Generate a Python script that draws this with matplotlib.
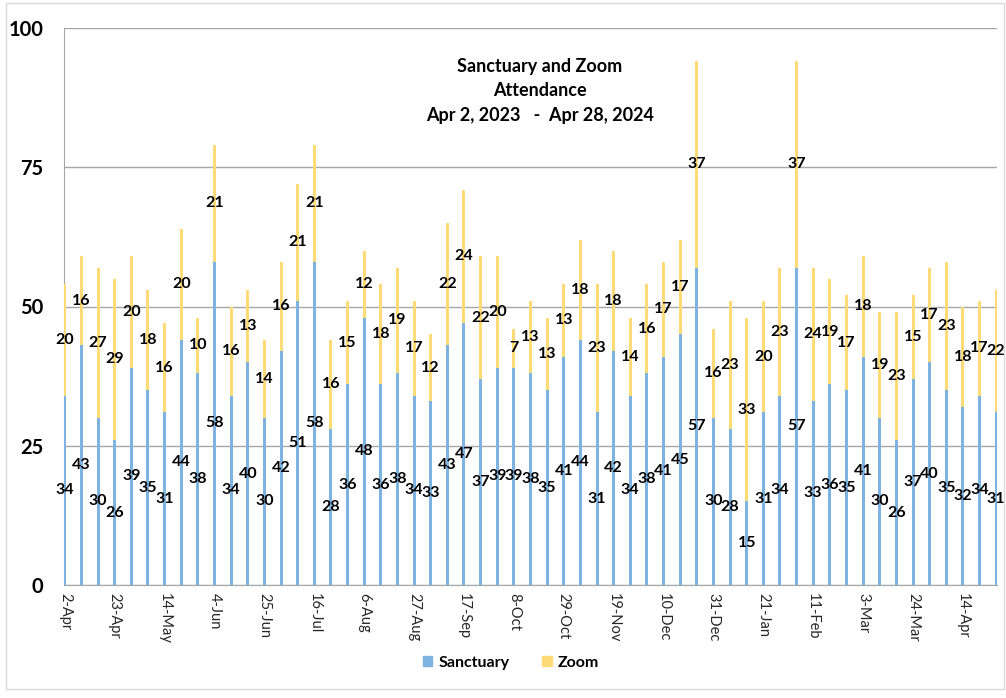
import matplotlib
matplotlib.use("Agg")
import matplotlib.pyplot as plt
from matplotlib.patches import Rectangle, Patch
import numpy as np

sanctuary = [34, 43, 30, 26, 39, 35, 31, 44, 38, 58, 34, 40, 30, 42, 51, 58, 28, 36, 48, 36,
             38, 34, 33, 43, 47, 37, 39, 39, 38, 35, 41, 44, 31, 42, 34, 38, 41, 45, 57, 30,
             28, 15, 31, 34, 57, 33, 36, 35, 41, 30, 26, 37, 40, 35, 32, 34, 31]
zoom = [20, 16, 27, 29, 20, 18, 16, 20, 10, 21, 16, 13, 14, 16, 21, 21, 16, 15, 12, 18,
        19, 17, 12, 22, 24, 22, 20, 7, 13, 13, 13, 18, 23, 18, 14, 16, 17, 17, 37, 16,
        23, 33, 20, 23, 37, 24, 19, 17, 18, 19, 23, 15, 17, 23, 18, 17, 22]
tick_labels = ["2-Apr", "23-Apr", "14-May", "4-Jun", "25-Jun", "16-Jul", "6-Aug", "27-Aug",
               "17-Sep", "8-Oct", "29-Oct", "19-Nov", "10-Dec", "31-Dec", "21-Jan", "11-Feb",
               "3-Mar", "24-Mar", "14-Apr"]
title = "Sanctuary and Zoom\nAttendance\nApr 2, 2023   -  Apr 28, 2024"

BLUE = "#7DB3E0"
YELLOW = "#FFDB78"
GRID = "#A6A6A6"
FONT = "Lato"

fig = plt.figure(figsize=(10.06, 6.98), dpi=100)
ax = fig.add_axes([64/1006, 1-585/698, (997-64)/1006, (585-28)/698])

x = np.arange(len(sanctuary))
s = np.array(sanctuary)
z = np.array(zoom)
w = 0.18
ax.bar(x, s, width=w, color=BLUE, zorder=3)
ax.bar(x, z, width=w, bottom=s, color=YELLOW, zorder=3)

for xi, si, zi in zip(x, s, z):
    ax.text(xi, si/2, str(si), ha="center", va="center", fontsize=11.5,
            fontweight="bold", family=FONT, zorder=5)
    ax.text(xi, si + zi/2, str(zi), ha="center", va="center", fontsize=11.5,
            fontweight="bold", family=FONT, zorder=5)

ax.set_xlim(-0.05, len(s) - 1 + 0.05)
ax.set_ylim(0, 100)
ax.set_yticks([0, 25, 50, 75, 100])
ax.set_yticklabels(["0", "25", "50", "75", "100"], fontsize=14.5, fontweight="bold", family=FONT)
ax.yaxis.grid(True, color=GRID, linewidth=1.0, zorder=0)
ax.set_axisbelow(True)
ax.tick_params(axis="y", length=0, pad=15)
ax.tick_params(axis="x", length=0, pad=6, labelcolor="#262626")
ax.set_xticks(x[::3])
ax.set_xticklabels(tick_labels, rotation=270, fontsize=10.5, family=FONT)
for sp in ["top", "right"]:
    ax.spines[sp].set_visible(False)
ax.spines["left"].set_color(GRID)
ax.spines["bottom"].set_color(GRID)

ax.text(0.51, 0.947, title, transform=ax.transAxes, ha="center", va="top",
        fontsize=13, fontweight="bold", family=FONT, linespacing=1.55)

handles = [Patch(color=BLUE, label="Sanctuary"), Patch(color=YELLOW, label="Zoom")]
fig.legend(handles=handles, loc="center", bbox_to_anchor=(0.508, 1-663/698), ncol=2,
           frameon=False, prop={"family": FONT, "weight": "bold", "size": 11.5},
           handlelength=0.6, handleheight=0.6, columnspacing=2.0, handletextpad=0.4)

fig.patches.append(Rectangle((6/1006, 1-689/698), (1004-6)/1006, (689-3)/698,
                             transform=fig.transFigure, fill=False, edgecolor="#D9D9D9",
                             linewidth=1.0))

fig.savefig("out.png", dpi=100)
